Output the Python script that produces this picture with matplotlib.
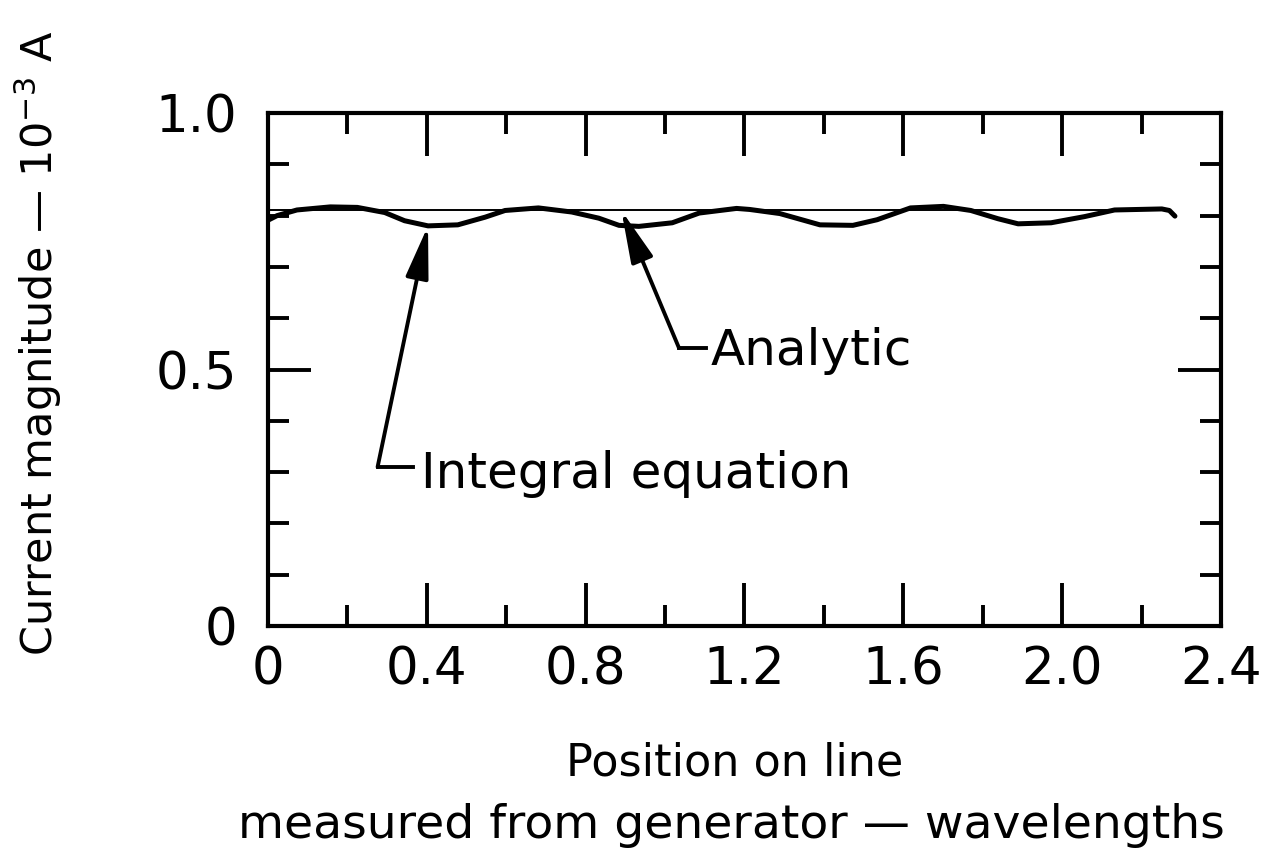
import numpy as np
import matplotlib.pyplot as plt
from matplotlib.ticker import MultipleLocator, FuncFormatter

# Current magnitude along the line (units of 1e-3 A), position in wavelengths
position = [0.0, 0.023, 0.073, 0.157, 0.225, 0.294, 0.344, 0.403, 0.478,
            0.547, 0.597, 0.681, 0.765, 0.833, 0.884, 0.934, 1.018, 1.086,
            1.180, 1.213, 1.289, 1.390, 1.473, 1.534, 1.618, 1.701, 1.770,
            1.838, 1.889, 1.972, 2.056, 2.132, 2.251, 2.270, 2.284]
integral_eq = [0.791, 0.800, 0.811, 0.817, 0.816, 0.806, 0.790, 0.780, 0.782,
               0.797, 0.810, 0.815, 0.807, 0.795, 0.781, 0.779, 0.786, 0.805,
               0.814, 0.812, 0.804, 0.782, 0.781, 0.792, 0.815, 0.818, 0.810,
               0.794, 0.784, 0.786, 0.798, 0.811, 0.813, 0.810, 0.799]
analytic_x = [0.0, 2.27]
analytic = [0.81, 0.81]

xticks = [0, 0.4, 0.8, 1.2, 1.6, 2.0, 2.4]
yticks = [0, 0.5, 1.0]

fig = plt.figure(figsize=(12.78, 8.51), dpi=100)
ax = fig.add_axes([0.2097, 0.2644, 0.7457, 0.6028])

ax.plot(analytic_x, analytic, color='black', lw=1.4)
ax.plot(position, integral_eq, color='black', lw=3.6, solid_capstyle='round')

ax.set_xlim(0, 2.4)
ax.set_ylim(0, 1.0)
ax.set_xticks(xticks)
ax.set_yticks(yticks)
ax.xaxis.set_minor_locator(MultipleLocator(0.2))
ax.yaxis.set_minor_locator(MultipleLocator(0.1))

fmt = FuncFormatter(lambda v, pos: '0' if abs(v) < 1e-9 else '%.1f' % v)
ax.xaxis.set_major_formatter(fmt)
ax.yaxis.set_major_formatter(fmt)

ax.tick_params(which='both', direction='in', top=True, right=True, width=2.8,
               labelsize=37)
ax.tick_params(which='major', length=31)
ax.tick_params(which='minor', length=15)
ax.tick_params(axis='x', pad=14)
ax.tick_params(axis='y', pad=22)
for s in ax.spines.values():
    s.set_linewidth(3.0)

# leader arrows for the two curves
arrow = dict(arrowstyle='-|>,head_length=1.6,head_width=0.35', color='black',
             lw=2.8, mutation_scale=20, shrinkA=0, shrinkB=0)
i_tip = 7
ax.annotate('', xy=(position[i_tip], integral_eq[i_tip]), xytext=(0.276, 0.31),
            arrowprops=arrow)
ax.plot([0.276, 0.365], [0.31, 0.31], color='black', lw=2.8)
ax.text(0.385, 0.269, 'Integral equation', fontsize=36, va='baseline')

ax.annotate('', xy=(0.89, analytic[0]), xytext=(1.035, 0.542),
            arrowprops=arrow)
ax.plot([1.035, 1.104], [0.542, 0.542], color='black', lw=2.8)
ax.text(1.115, 0.509, 'Analytic', fontsize=36, va='baseline')

fig.text(0.030, 0.597, r'Current magnitude — 10$^{-3}$ A', rotation=90,
         fontsize=31, ha='center', va='center')
fig.text(0.575, 0.0893, 'Position on line', fontsize=32, ha='center',
         va='baseline')
fig.text(0.572, 0.0153, 'measured from generator — wavelengths', fontsize=34,
         ha='center', va='baseline')

fig.savefig('out.png', dpi=100)
